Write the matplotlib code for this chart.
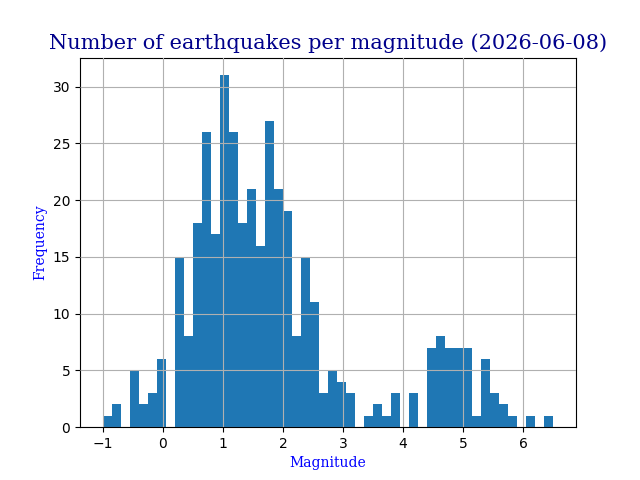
import numpy as np
import matplotlib
matplotlib.use("Agg")
import matplotlib.pyplot as plt

bin_start = -1.0
bin_width = 0.15
counts = [1, 2, 0, 5, 2, 3, 6, 0, 15, 8,
          18, 26, 17, 31, 26, 18, 21, 16, 27, 21,
          19, 8, 15, 11, 3, 5, 4, 3, 0, 1,
          2, 1, 3, 0, 3, 0, 7, 8, 7, 7,
          7, 1, 6, 3, 2, 1, 0, 1, 0, 1]

edges = bin_start + bin_width * np.arange(len(counts) + 1)
centers = (edges[:-1] + edges[1:]) / 2

fig, ax = plt.subplots(figsize=(6.4, 4.8), dpi=100)
ax.hist(centers, bins=edges, weights=counts, color="#1f77b4")
ax.grid(True)
ax.set_axisbelow(False)
ax.set_title("Number of earthquakes per magnitude (2026-06-08)",
             family="serif", color="darkblue", fontsize=15)
ax.set_xlabel("Magnitude", family="serif", color="blue")
ax.set_ylabel("Frequency", family="serif", color="blue")
fig.savefig("out.png")
